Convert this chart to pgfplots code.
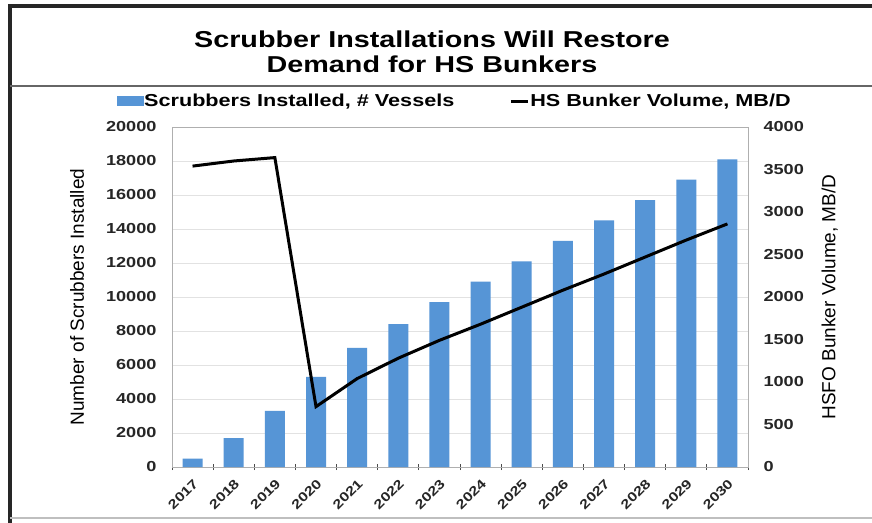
\documentclass[border=0pt]{standalone}
\usepackage{fontspec}
\setmainfont[FakeStretch=1.25]{Liberation Sans}
\newfontfamily\plainfont{Liberation Sans}
\usepackage{pgfplots}
\pgfplotsset{compat=1.18}
\usepackage{pgfplotstable}
\definecolor{barblue}{RGB}{86,149,214}
\definecolor{gridgray}{RGB}{226,226,226}
\definecolor{axisgray}{RGB}{175,175,175}

\pgfplotstableread{
x scrub vol
0 500 3540
1 1700 3600
2 3300 3640
3 5300 710
4 7000 1040
5 8400 1280
6 9700 1490
7 10900 1680
8 12100 1880
9 13300 2080
10 14500 2270
11 15700 2470
12 16900 2670
13 18100 2860
}\datatable

\begin{document}
\begin{tikzpicture}[x=1pt,y=1pt]
\useasboundingbox (0,0) rectangle (872,522);
\fill[white] (0,0) rectangle (872,522);
\draw[line width=4pt, black!85] (10,-2) -- (10,516) -- (874,516);
\draw[line width=1.2pt, black!25] (10,4) -- (872,4);
\draw[line width=2.5pt, black!60] (10,436) -- (872,436);
\node[font=\fontsize{23}{25}\selectfont\bfseries, align=center] at (432,470) {Scrubber Installations Will Restore\\Demand for HS Bunkers};

\begin{axis}[
  at={(172pt,55pt)}, anchor=south west,
  width=576pt, height=340pt, scale only axis,
  xmin=-0.5, xmax=13.5, ymin=0, ymax=20000,
  axis line style={axisgray, line width=0.8pt},
  ytick={0,2000,...,20000},
  ytick pos=left,
  ymajorgrids, grid style={gridgray, line width=0.8pt},
  major tick length=0pt,
  xtick={0,...,13},
  xticklabels={2017,2018,2019,2020,2021,2022,2023,2024,2025,2026,2027,2028,2029,2030},
  xtick pos=bottom,
  minor xtick={-0.5,0.5,...,13.5},
  minor tick length=6pt,
  xtick align=center,
  minor tick style={black!70, line width=0.8pt},
  scaled ticks=false,
  /pgf/number format/1000 sep={},
  /pgf/number format/assume math mode=true,
  yticklabel style={font=\bfseries\fontsize{14.5}{16}\selectfont, xshift=-12pt, text=black!85},
  xticklabel style={font=\bfseries\fontsize{13}{14}\selectfont, rotate=45, anchor=north east, inner sep=0pt, text=black!85},
  xticklabel shift=11pt,
  clip=false,
]
\addplot[ybar, bar width=20pt, fill=barblue, draw=none] table[x=x,y=scrub] {\datatable};
\node[rotate=90, font=\plainfont\fontsize{19}{22}\selectfont] at (rel axis cs:-0.165,0.5) {Number of Scrubbers Installed};
\end{axis}

\begin{axis}[
  at={(172pt,55pt)}, anchor=south west,
  width=576pt, height=340pt, scale only axis,
  xmin=-0.5, xmax=13.5, ymin=0, ymax=4000,
  hide x axis,
  axis y line*=right,
  axis line style={draw=none},
  ytick={0,500,...,4000},
  major tick length=0pt,
  scaled ticks=false,
  /pgf/number format/1000 sep={},
  /pgf/number format/assume math mode=true,
  yticklabel style={font=\bfseries\fontsize{14.5}{16}\selectfont, xshift=12pt, text=black!85},
  clip=false,
  legend style={at={(0.49,1.076)}, anchor=center, draw=none, fill=none,
    legend columns=2, font=\bfseries\fontsize{17.3}{19}\selectfont,
    /tikz/every even column/.append style={column sep=54pt},
    inner sep=0pt, nodes={inner sep=1pt}},
]
\addlegendimage{legend image code/.code={\fill[barblue] (0pt,-4.5pt) rectangle (26pt,4.5pt);}}
\addlegendentry{Scrubbers Installed, \# Vessels}
\addplot[black, line width=3pt, mark=none, legend image code/.code={\draw[line width=3pt] (0pt,0pt) -- (17pt,0pt);}] table[x=x,y=vol] {\datatable};
\addlegendentry{HS Bunker Volume, MB/D}
\node[rotate=90, font=\plainfont\fontsize{19}{22}\selectfont] at (rel axis cs:1.142,0.5) {HSFO Bunker Volume, MB/D};
\end{axis}
\end{tikzpicture}
\end{document}
